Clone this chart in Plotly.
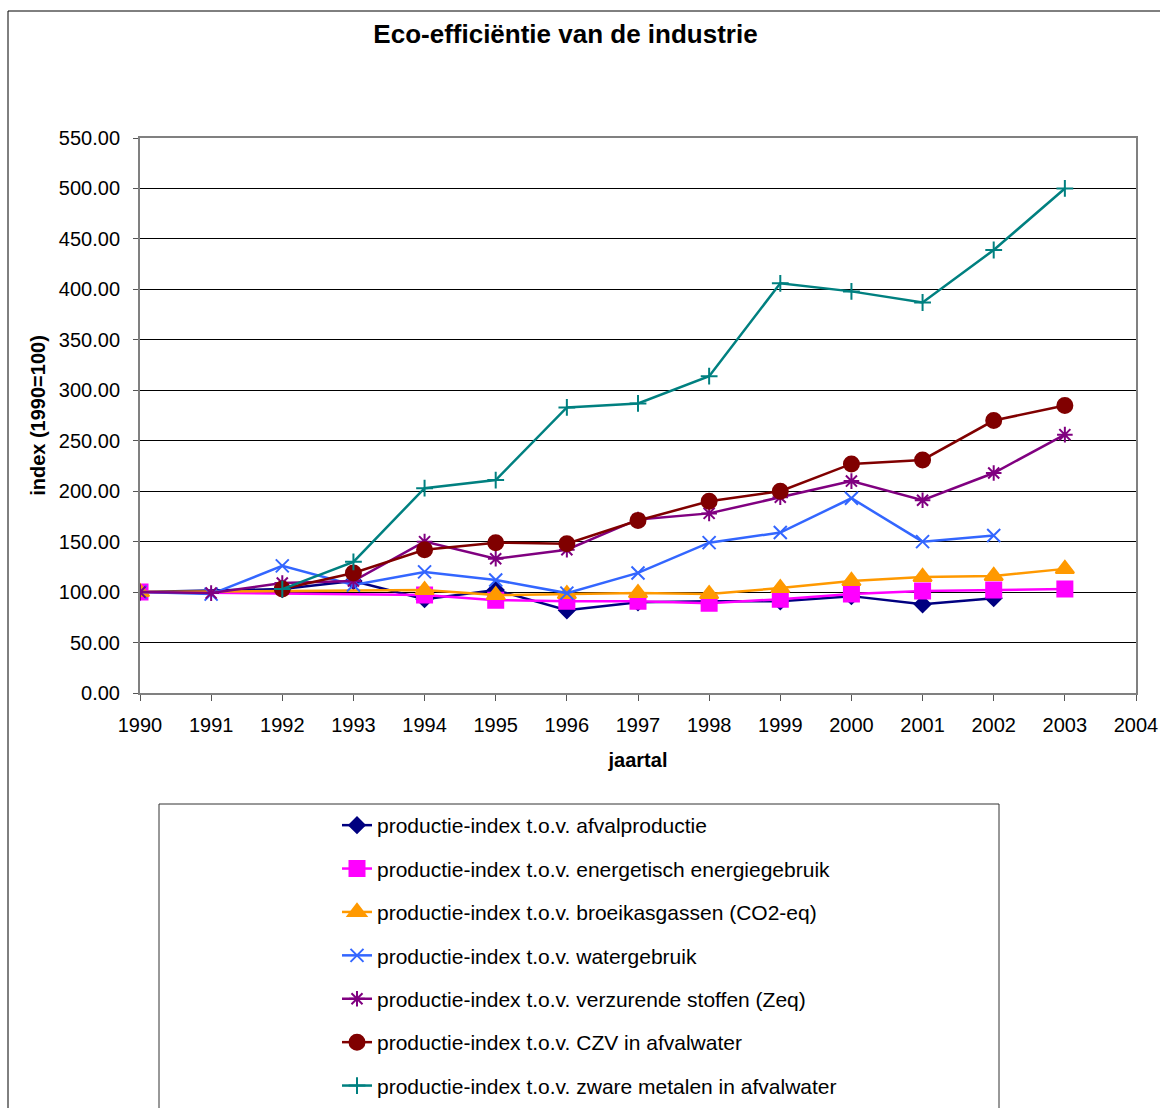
import plotly.graph_objects as go

# Index values per year (1990 = 100); None where no value was reported
years = list(range(1990, 2004))
afvalproductie = [100, None, 103, 111, 93, 102, 82, 90, 91, 91, 96, 88, 94, None]
energiegebruik = [100, None, None, None, 97, 92, 91, 91, 89, 93, 98, 101, 102, 103]
broeikasgassen = [100, None, None, None, 102, 97, 98, 99, 98, 104, 111, 115, 116, 123]
watergebruik = [100, 98, 126, 107, 120, 112, 99, 119, 149, 159, 193, 150, 156, None]
verzurende_stoffen = [100, 99, 109, 111, 150, 133, 142, 172, 178, 194, 210, 191, 218, 256]
czv_afvalwater = [None, None, 103, 119, 142, 149, 148, 171, 190, 200, 227, 231, 270, 285]
zware_metalen = [None, None, 103, 130, 203, 211, 283, 287, 314, 406, 398, 387, 439, 500]

series_names = [
    "productie-index t.o.v. afvalproductie",
    "productie-index t.o.v. energetisch energiegebruik",
    "productie-index t.o.v. broeikasgassen (CO2-eq)",
    "productie-index t.o.v. watergebruik",
    "productie-index t.o.v. verzurende stoffen (Zeq)",
    "productie-index t.o.v. CZV in afvalwater",
    "productie-index t.o.v. zware metalen in afvalwater",
]
series_values = [afvalproductie, energiegebruik, broeikasgassen, watergebruik,
                 verzurende_stoffen, czv_afvalwater, zware_metalen]

# Styling per series: colour, marker symbol, marker size
styles = [
    ("#000080", "diamond", 12),
    ("#FF00FF", "square", 15),
    ("#FF9900", "triangle-up", 16),
    ("#3366FF", "x-thin-open", 13),
    ("#800080", "asterisk-open", 13),
    ("#800000", "circle", 15),
    ("#008080", "cross-thin-open", 12),
]

fig = go.Figure()
for i, (name, vals, (color, symbol, size)) in enumerate(zip(series_names, series_values, styles)):
    fig.add_trace(go.Scatter(
        x=years, y=vals, name=name, mode="lines+markers",
        connectgaps=True, legendgroup=f"g{i}",
        line=dict(color=color, width=2.5),
        marker=dict(symbol=symbol, size=size, color=color,
                    line=dict(color=color, width=2)),
    ))

# Plot-area geometry in pixels, used to place paper-referenced frames
W, H = 1160, 1108
L, R, T, B = 140, 1136, 138, 693


def px_x(p):
    return (p - L) / (R - L)


def px_y(p):
    return (B - p) / (B - T)


fig.update_layout(
    width=W, height=H,
    margin=dict(l=L, r=W - R, t=T, b=H - B, pad=0, autoexpand=False),
    paper_bgcolor="white", plot_bgcolor="white",
    font=dict(family="Liberation Sans, Arial, sans-serif", size=20, color="black"),
    title=dict(text="<b>Eco-efficiëntie van de industrie</b>",
               font=dict(size=26, color="black"),
               x=565.5 / W, xref="container", xanchor="center",
               y=1 - 34 / H, yref="container", yanchor="middle"),
    showlegend=True,
    legend=dict(x=px_x(337), y=px_y(805), xanchor="left", yanchor="top",
                traceorder="grouped", tracegroupgap=13.1,
                font=dict(size=21, color="black"),
                bgcolor="rgba(0,0,0,0)", borderwidth=0),
    shapes=[
        # outer chart frame
        dict(type="rect", xref="paper", yref="paper",
             x0=px_x(8), x1=px_x(1165), y0=px_y(1120), y1=px_y(11),
             line=dict(color="black", width=1), layer="below"),
        # legend frame
        dict(type="rect", xref="paper", yref="paper",
             x0=px_x(159), x1=px_x(999), y0=px_y(1120), y1=px_y(804),
             line=dict(color="#333333", width=1), layer="below"),
    ],
)

fig.update_xaxes(
    range=[1990, 2004], dtick=1, tick0=1990, showgrid=False, zeroline=False,
    automargin=False,
    ticks="outside", ticklen=6, tickcolor="#555555", tickwidth=1,
    ticklabelstandoff=7,
    showline=True, linecolor="#808080", linewidth=2, mirror=True,
    tickfont=dict(size=20),
    title=dict(text="<b>jaartal</b>", font=dict(size=20), standoff=18),
)
fig.update_yaxes(
    range=[0, 550], dtick=50, tick0=0, tickformat=".2f",
    showgrid=True, gridcolor="black", gridwidth=1, zeroline=False,
    automargin=False,
    ticks="outside", ticklen=5, tickcolor="#555555", tickwidth=1,
    ticklabelstandoff=9,
    showline=True, linecolor="#808080", linewidth=2, mirror=True,
    tickfont=dict(size=20),
    title=dict(text="<b>index (1990=100)</b>", font=dict(size=20), standoff=8),
)

fig.write_html("out.html")
